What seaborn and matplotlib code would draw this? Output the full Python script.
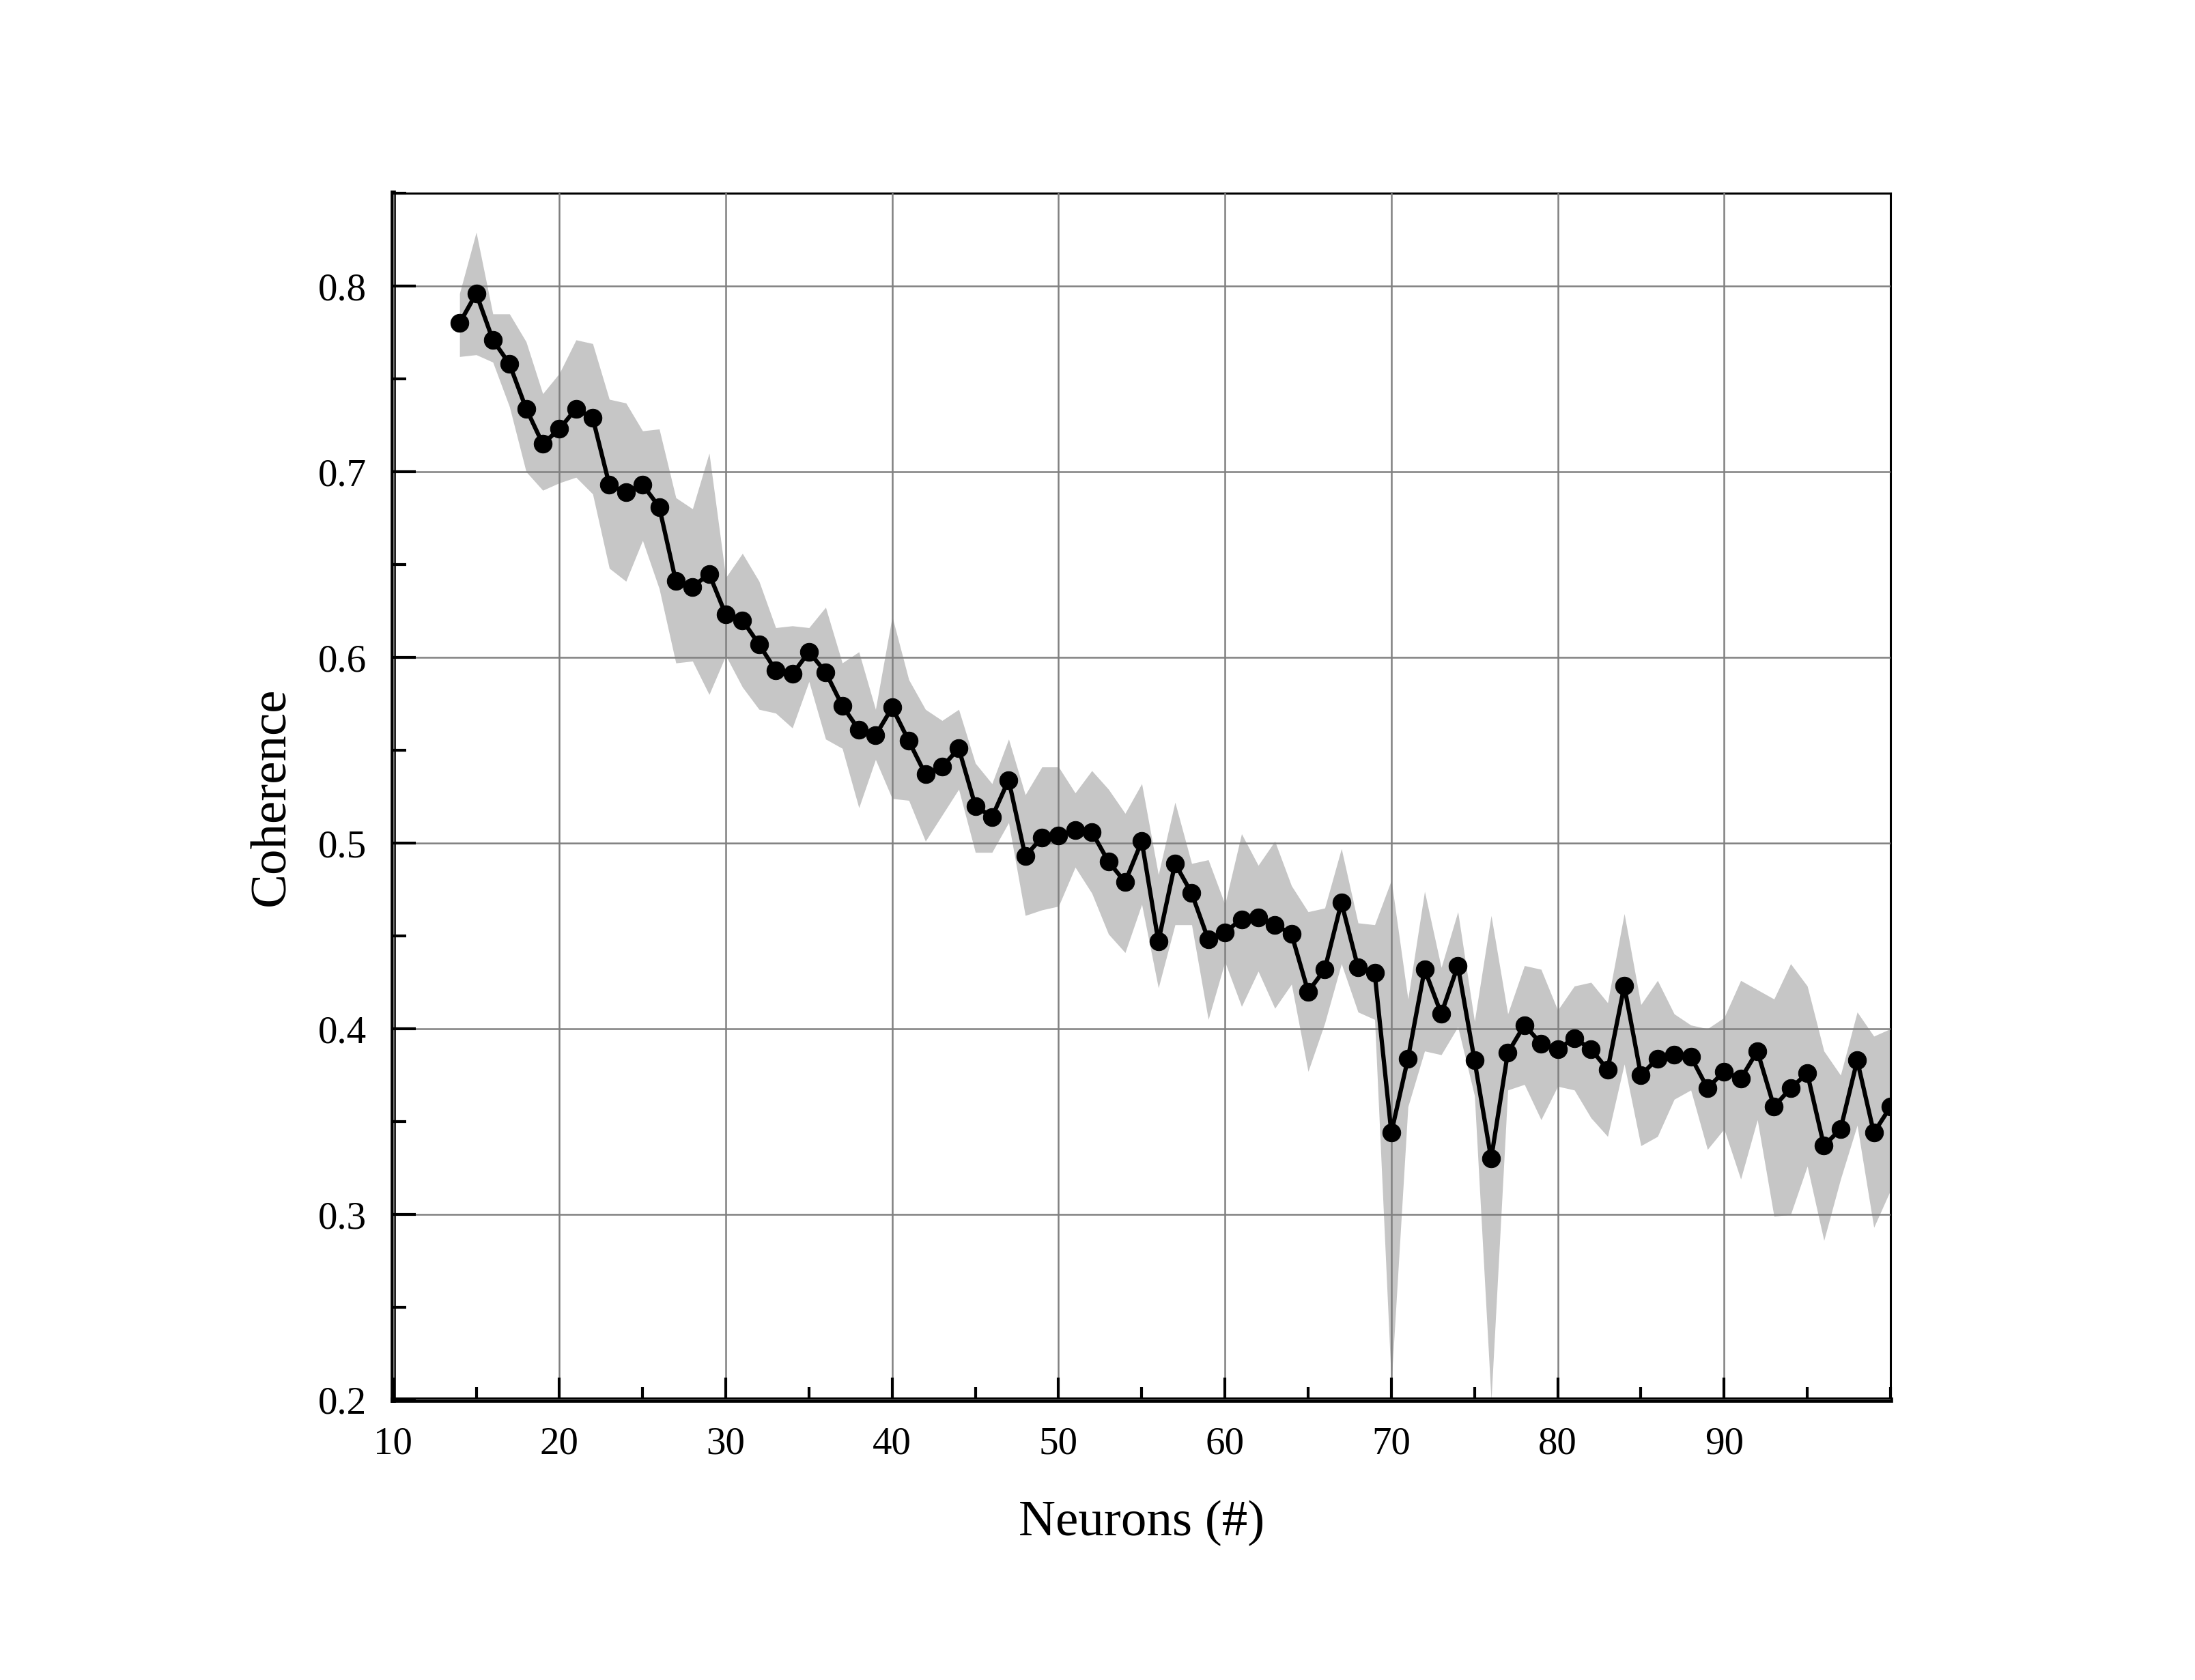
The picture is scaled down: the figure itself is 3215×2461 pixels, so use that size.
import numpy as np
import pandas as pd
import matplotlib
matplotlib.use("Agg")
import matplotlib.pyplot as plt
import seaborn as sns
from matplotlib.ticker import MultipleLocator

# 뉴런 수 (14 ~ 100)
neurons = list(range(14, 101))

# 평균 coherence
coherence = [
    0.780, 0.796, 0.771, 0.758, 0.734, 0.715, 0.723, 0.734, 0.729, 0.693,
    0.689, 0.693, 0.681, 0.641, 0.638, 0.645, 0.623, 0.620, 0.607, 0.593,
    0.591, 0.603, 0.592, 0.574, 0.561, 0.558, 0.573, 0.555, 0.537, 0.541,
    0.551, 0.520, 0.514, 0.534, 0.493, 0.503, 0.504, 0.507, 0.506, 0.490,
    0.479, 0.501, 0.447, 0.489, 0.473, 0.448, 0.452, 0.459, 0.460, 0.456,
    0.451, 0.420, 0.432, 0.468, 0.433, 0.430, 0.344, 0.384, 0.432, 0.408,
    0.434, 0.383, 0.330, 0.387, 0.402, 0.392, 0.389, 0.395, 0.389, 0.378,
    0.423, 0.375, 0.384, 0.386, 0.385, 0.368, 0.377, 0.373, 0.388, 0.358,
    0.368, 0.376, 0.337, 0.346, 0.383, 0.344, 0.358,
]

# 음영 영역 상한
upper = [
    0.796, 0.829, 0.785, 0.785, 0.770, 0.742, 0.753, 0.771, 0.769, 0.739,
    0.737, 0.722, 0.723, 0.686, 0.680, 0.710, 0.643, 0.656, 0.641, 0.616,
    0.617, 0.616, 0.627, 0.597, 0.603, 0.572, 0.622, 0.588, 0.572, 0.566,
    0.572, 0.543, 0.532, 0.556, 0.526, 0.541, 0.541, 0.527, 0.539, 0.529,
    0.516, 0.532, 0.483, 0.522, 0.489, 0.491, 0.467, 0.505, 0.488, 0.501,
    0.477, 0.463, 0.465, 0.497, 0.457, 0.456, 0.480, 0.416, 0.474, 0.433,
    0.463, 0.404, 0.461, 0.408, 0.434, 0.432, 0.410, 0.423, 0.425, 0.414,
    0.462, 0.413, 0.426, 0.408, 0.402, 0.400, 0.406, 0.426, 0.421, 0.416,
    0.435, 0.423, 0.388, 0.375, 0.409, 0.396, 0.400,
]

# 음영 영역 하한
lower = [
    0.762, 0.763, 0.759, 0.735, 0.700, 0.690, 0.694, 0.697, 0.688, 0.648,
    0.641, 0.663, 0.637, 0.597, 0.598, 0.580, 0.601, 0.584, 0.572, 0.570,
    0.562, 0.587, 0.556, 0.551, 0.519, 0.545, 0.524, 0.523, 0.501, 0.515,
    0.529, 0.495, 0.495, 0.511, 0.461, 0.464, 0.466, 0.487, 0.473, 0.451,
    0.441, 0.467, 0.422, 0.456, 0.456, 0.405, 0.436, 0.412, 0.431, 0.411,
    0.424, 0.377, 0.403, 0.435, 0.409, 0.405, 0.209, 0.358, 0.388, 0.386,
    0.401, 0.364, 0.200, 0.367, 0.370, 0.351, 0.369, 0.367, 0.352, 0.342,
    0.381, 0.337, 0.342, 0.362, 0.367, 0.335, 0.346, 0.319, 0.351, 0.299,
    0.300, 0.326, 0.286, 0.319, 0.348, 0.293, 0.313,
]

df = pd.DataFrame({"neurons": neurons, "coherence": coherence,
                   "upper": upper, "lower": lower})

sns.set_style("white")
plt.rcParams['font.family'] = ['Liberation Serif', 'DejaVu Serif']
plt.rcParams['text.color'] = 'black'
plt.rcParams['axes.labelcolor'] = 'black'
plt.rcParams['xtick.color'] = 'black'
plt.rcParams['ytick.color'] = 'black'

fig = plt.figure(figsize=(32.16, 24.61), dpi=100)
ax = fig.add_axes([0.179, 0.1666, 0.682, 0.7184])

ax.fill_between(df["neurons"], df["lower"], df["upper"],
                color="#c6c6c6", linewidth=0, zorder=1)
sns.lineplot(data=df, x="neurons", y="coherence", ax=ax, color="black",
             linewidth=4.5, marker="o", markersize=19, markeredgecolor="black",
             zorder=3)

ax.set_xlim(10, 100)
ax.set_ylim(0.2, 0.85)
ax.set_xticks(range(10, 100, 10))
ax.set_yticks([0.2, 0.3, 0.4, 0.5, 0.6, 0.7, 0.8])
ax.set_yticklabels(["0.2", "0.3", "0.4", "0.5", "0.6", "0.7", "0.8"])
ax.xaxis.set_minor_locator(MultipleLocator(5))
ax.yaxis.set_minor_locator(MultipleLocator(0.05))

ax.set_axisbelow(False)
ax.grid(True, which="major", color="#808080", linewidth=1.8)

ax.tick_params(which="major", direction="in", length=24, width=3,
               labelsize=41, pad=28, bottom=True, left=True,
               top=False, right=False, colors="black")
ax.tick_params(which="minor", direction="in", length=14, width=3,
               bottom=True, left=True, top=False, right=False,
               colors="black")

for side in ["left", "bottom"]:
    ax.spines[side].set_linewidth(5.5)
    ax.spines[side].set_color("black")
for side in ["top", "right"]:
    ax.spines[side].set_linewidth(2.2)
    ax.spines[side].set_color("black")

ax.set_xlabel("Neurons (#)", fontsize=54, labelpad=40, color="black")
ax.set_ylabel("Coherence", fontsize=54, labelpad=24, color="black")

fig.savefig("out.png", dpi=100, facecolor="white")
